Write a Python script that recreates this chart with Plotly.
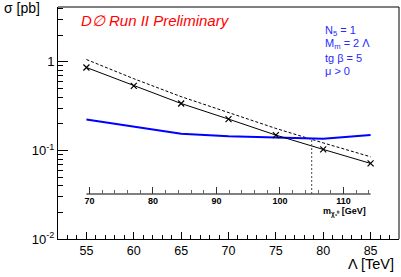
import numpy as np
import plotly.graph_objects as go

# ---- data ----
lambda_tev = [55, 60, 65, 70, 75, 80, 85]
sigma_theory = [0.865, 0.536, 0.339, 0.226, 0.149, 0.1027, 0.0714]
sigma_theory_dash = [1.064, 0.646, 0.405, 0.2687, 0.1773, 0.1217, 0.0848]
sigma_limit = [0.224, 0.186, 0.1546, 0.145, 0.1396, 0.136, 0.149]

# neutralino mass axis: mass at the ends of the Lambda range
chi_lambda_ends = [55, 85]
chi_mass_ends = [69.53, 114.27]
chi_major_ticks = [70, 80, 90, 100, 110]
chi_minor_ticks = [72, 74, 76, 78, 82, 84, 86, 88, 92, 94, 96, 98, 102, 104, 106, 108, 112, 114]
mass_limit = 105.0
mass_limit_sigma = 0.1376
inner_axis_sigma = 0.0322

x_range = [52, 88]
y_log_range = [-2, 0.62]

FONT = "Liberation Sans"

slope = (chi_mass_ends[1] - chi_mass_ends[0]) / (chi_lambda_ends[1] - chi_lambda_ends[0])
def lam_to_mass(l):
    return chi_mass_ends[0] + (l - chi_lambda_ends[0]) * slope
m_range = [lam_to_mass(x_range[0]), lam_to_mass(x_range[1])]

fig = go.Figure()

fig.add_trace(go.Scatter(x=lambda_tev, y=sigma_theory_dash, mode="lines",
                         line=dict(color="black", width=1, dash="3px,2px"), showlegend=False))
fig.add_trace(go.Scatter(x=lambda_tev, y=sigma_limit, mode="lines",
                         line=dict(color="#0000ff", width=2), showlegend=False))
fig.add_trace(go.Scatter(x=lambda_tev, y=sigma_theory, mode="lines+markers",
                         line=dict(color="black", width=1),
                         marker=dict(symbol="x-thin", size=6, line=dict(color="black", width=1.2)),
                         showlegend=False))

# inner mass axis line and limit line (on secondary x axis)
fig.add_trace(go.Scatter(x=chi_mass_ends, y=[inner_axis_sigma, inner_axis_sigma], mode="lines",
                         line=dict(color="#808080", width=2), xaxis="x2", yaxis="y",
                         showlegend=False))
fig.add_trace(go.Scatter(x=[mass_limit, mass_limit], y=[inner_axis_sigma, mass_limit_sigma], mode="lines",
                         line=dict(color="#444444", width=1, dash="2px,2px"), xaxis="x2", yaxis="y",
                         showlegend=False))

pos2 = (np.log10(inner_axis_sigma) - y_log_range[0]) / (y_log_range[1] - y_log_range[0])

y_minor = [v * d for d in (0.01, 0.1, 1) for v in range(2, 10)]

fig.update_layout(
    width=401, height=277,
    margin=dict(l=58, r=2, t=7, b=38),
    paper_bgcolor="white", plot_bgcolor="white",
    font=dict(family=FONT, size=13, color="black"),
    xaxis=dict(range=x_range, tick0=55, dtick=5, ticks="inside", ticklen=7, tickcolor="black",
               showline=True, linecolor="black", linewidth=1, showgrid=False, zeroline=False,
               tickfont=dict(size=12.5), automargin=False,
               minor=dict(dtick=1, tick0=55, ticks="inside", ticklen=4, tickcolor="black", showgrid=False)),
    xaxis2=dict(overlaying="x", anchor="free", position=float(pos2), side="bottom",
                range=m_range, tickvals=chi_major_ticks, ticks="inside", ticklen=7,
                tickcolor="#333333", tickwidth=1, showline=False, showgrid=False, zeroline=False,
                tickfont=dict(size=9, weight="bold"), automargin=False,
                minor=dict(tickvals=chi_minor_ticks, ticks="inside", ticklen=4, tickcolor="#666666",
                           showgrid=False)),
    yaxis=dict(type="log", range=y_log_range, tickvals=[0.01, 0.1, 1],
               ticktext=["10<sup>-2</sup>", "10<sup>-1</sup>", "1"],
               ticks="inside", ticklen=10, tickcolor="black", showline=True, linecolor="black",
               linewidth=1, showgrid=False, zeroline=False, tickfont=dict(size=13), automargin=False,
               minor=dict(tickvals=y_minor, ticks="inside", ticklen=5, tickcolor="black", showgrid=False)),
)

# frame (top and right)
fig.add_shape(type="line", xref="paper", yref="paper", x0=0, x1=1, y0=1, y1=1,
              line=dict(color="#808080", width=2))
fig.add_shape(type="line", xref="paper", yref="paper", x0=1, x1=1, y0=0, y1=1,
              line=dict(color="black", width=1))

ann = []
ann.append(dict(text="σ [pb]", xref="paper", yref="paper", x=-0.163, y=0.995,
                xanchor="left", yanchor="middle", showarrow=False, font=dict(size=14)))
ann.append(dict(text="<i>D∅ Run II Preliminary</i>", xref="paper", yref="paper", x=0.286, y=0.94,
                xanchor="center", yanchor="middle", showarrow=False, font=dict(size=15, color="#ff0000")))
blue_lines = ["N<sub>5</sub> = 1", "M<sub>m</sub> = 2 Λ", "tg β = 5", "μ > 0"]
blue_y = [0.8966, 0.8384, 0.7815, 0.7254]
for t, yy in zip(blue_lines, blue_y):
    ann.append(dict(text=t, xref="paper", yref="paper", x=0.777, y=yy, xanchor="left",
                    yanchor="middle", showarrow=False, font=dict(size=11, color="#2a2aff")))
ann.append(dict(text="Λ [TeV]", xref="paper", yref="paper", x=0.991, y=-0.106,
                xanchor="right", yanchor="middle", showarrow=False, font=dict(size=14.5)))
ann.append(dict(text="<b>m<sub>χ₁⁰</sub> [GeV]</b>", xref="paper", yref="paper", x=0.909, y=0.118,
                xanchor="right", yanchor="middle", showarrow=False, font=dict(size=9)))
fig.update_layout(annotations=ann)

fig.write_html("out.html", config={"displayModeBar": False},
               post_script="document.body.style.margin='0';document.body.style.overflow='hidden';")
